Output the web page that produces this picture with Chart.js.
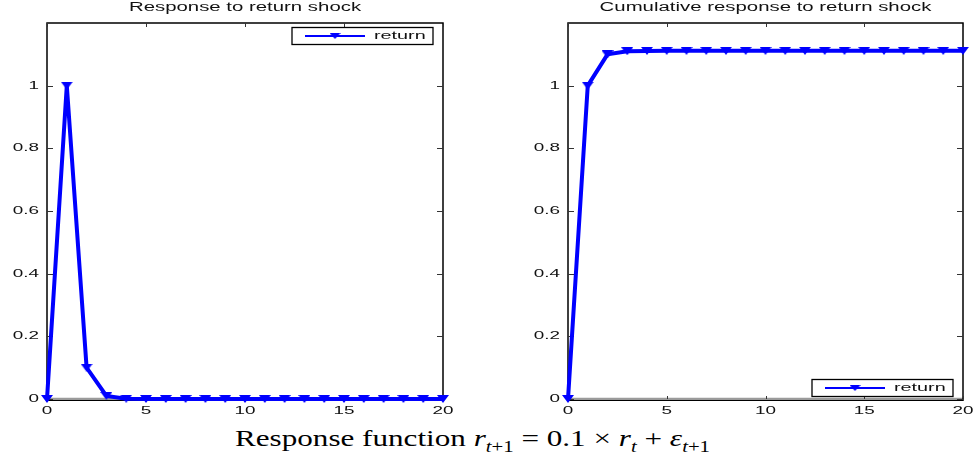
<!DOCTYPE html>
<html>
<head>
<meta charset="utf-8">
<script src="https://cdn.jsdelivr.net/npm/chart.js@4.4.1/dist/chart.umd.min.js"></script>
<style>
  html, body { margin: 0; padding: 0; background: #fff; width: 979px; height: 463px; overflow: hidden; }
  #left { position: absolute; left: 0; top: 0; }
  #right { position: absolute; left: 520px; top: 0; }
  #caption {
    position: absolute; top: 426px; left: 0; white-space: nowrap;
    font-family: "Liberation Serif", "Times New Roman", serif; font-size: 24px; line-height: 24px;
    color: #000; transform-origin: 0 0;
  }
  #caption i { font-style: italic; }
  #caption sub { font-size: 16px; vertical-align: -6px; line-height: 0; }
</style>
</head>
<body>
<canvas id="left" width="470" height="425"></canvas>
<canvas id="right" width="459" height="425"></canvas>
<div id="caption">Response function <i>r</i><sub><i>t</i>+1</sub> = 0.1 × <i>r</i><sub><i>t</i></sub> + <i>ε</i><sub><i>t</i>+1</sub></div>
<script>
// Horizon (periods after the shock)
const periods = [0, 1, 2, 3, 4, 5, 6, 7, 8, 9, 10, 11, 12, 13, 14, 15, 16, 17, 18, 19, 20];
// Impulse response of the return
const response = [0, 1, 0.1, 0.01, 0.001, 0.0001, 0, 0, 0, 0, 0, 0, 0, 0, 0, 0, 0, 0, 0, 0, 0];
// Cumulative response of the return
const cumulative = [0, 1, 1.1, 1.11, 1.111, 1.1111, 1.1111, 1.1111, 1.1111, 1.1111, 1.1111,
                    1.1111, 1.1111, 1.1111, 1.1111, 1.1111, 1.1111, 1.1111, 1.1111, 1.1111, 1.1111];
// Axis tick labels
const xTickLabels = ['0', '5', '10', '15', '20'];
const yTickLabels = ['0', '0.2', '0.4', '0.6', '0.8', '1'];
const seriesName = 'return';

const BLUE = '#0000ff';

// Downward-pointing triangle marker
function makeTriangle(w, h) {
  const c = document.createElement('canvas');
  c.width = w; c.height = h;
  const g = c.getContext('2d');
  g.fillStyle = BLUE;
  g.beginPath();
  g.moveTo(0, 0); g.lineTo(w, 0); g.lineTo(w / 2, h); g.closePath();
  g.fill();
  return c;
}
const marker = makeTriangle(12, 8);
const legendMarker = makeTriangle(11, 6);

// Text drawn with a wide horizontal stretch
function wideText(ctx, text, x, y, size, stretch, align) {
  ctx.save();
  ctx.font = size + 'px "Liberation Sans", Arial, sans-serif';
  ctx.textBaseline = 'middle';
  ctx.textAlign = 'left';
  const w = ctx.measureText(text).width * stretch;
  const x0 = align === 'center' ? x - w / 2 : (align === 'right' ? x - w : x);
  ctx.translate(x0, y);
  ctx.scale(stretch, 1);
  ctx.fillStyle = '#111';
  ctx.fillText(text, 0, 0);
  ctx.restore();
}

function seg(ctx, x1, y1, x2, y2) {
  ctx.beginPath(); ctx.moveTo(x1, y1); ctx.lineTo(x2, y2); ctx.stroke();
}

const framePlugin = {
  id: 'frame',
  beforeDatasetsDraw(chart, args, opts) {
    const { ctx, chartArea: a, scales: { x, y } } = chart;
    ctx.save();
    // zero reference line
    const y0 = y.getPixelForValue(0);
    ctx.strokeStyle = '#9a9a9a'; ctx.lineWidth = 2.5;
    seg(ctx, a.left, y0, a.right, y0);
    // axes box
    ctx.strokeStyle = '#000'; ctx.lineWidth = 1.5;
    ctx.beginPath();
    ctx.moveTo(a.left, a.bottom + 2); ctx.lineTo(a.left, a.top);
    ctx.lineTo(a.right, a.top); ctx.lineTo(a.right, a.bottom + 2);
    ctx.stroke();
    ctx.lineWidth = 1;
    seg(ctx, a.left, a.bottom + 1.5, a.right, a.bottom + 1.5);
    // inward tick marks
    ctx.strokeStyle = '#333';
    yTickLabels.forEach(l => {
      const py = Math.round(y.getPixelForValue(Number(l))) + 0.5;
      seg(ctx, a.left, py, a.left + 6, py);
      seg(ctx, a.right - 6, py, a.right, py);
    });
    xTickLabels.forEach(l => {
      const px = Math.round(x.getPixelForValue(Number(l))) + 0.5;
      seg(ctx, px, a.top, px, a.top + 4);
      seg(ctx, px, a.bottom, px, a.bottom - 3);
    });
    ctx.restore();
  },
  afterDraw(chart, args, opts) {
    const { ctx, chartArea: a, scales: { x, y } } = chart;
    // tick labels
    yTickLabels.forEach(l => {
      wideText(ctx, l, a.left - 8, y.getPixelForValue(Number(l)), 10.5, 1.8, 'right');
    });
    xTickLabels.forEach(l => {
      wideText(ctx, l, x.getPixelForValue(Number(l)), a.bottom + 12, 10.5, 1.8, 'center');
    });
    // title
    wideText(ctx, opts.title, (a.left + a.right) / 2, 8, 12.5, 1.63, 'center');
    // legend box
    const bw = 141, bh = 17;
    const bx = a.right - 10 - bw;
    const by = opts.corner === 'top' ? a.top + 4.5 : a.bottom - 2.5 - bh;
    ctx.save();
    ctx.fillStyle = '#fff';
    ctx.fillRect(bx, by, bw, bh);
    ctx.strokeStyle = '#000'; ctx.lineWidth = 1.3;
    ctx.strokeRect(bx, by, bw, bh);
    const cy = by + bh / 2;
    ctx.strokeStyle = BLUE; ctx.lineWidth = 2;
    seg(ctx, bx + 13, cy, bx + 73, cy);
    ctx.drawImage(legendMarker, bx + 43 - 5.5, cy - 3);
    ctx.restore();
    wideText(ctx, seriesName, bx + 82, cy, 11, 1.8, 'left');
  }
};

function makeChart(id, values, title, corner, yAxisWidth, rightPad) {
  return new Chart(document.getElementById(id), {
    type: 'line',
    data: {
      datasets: [{
        label: seriesName,
        data: periods.map((p, i) => ({ x: p, y: values[i] })),
        borderColor: BLUE,
        backgroundColor: BLUE,
        borderWidth: 4,
        pointStyle: marker,
        pointRadius: 6,
        pointHoverRadius: 6,
        tension: 0,
        clip: false
      }]
    },
    options: {
      responsive: false,
      animation: false,
      devicePixelRatio: 1,
      events: [],
      layout: { padding: { left: 0, right: rightPad, top: 23, bottom: 0 } },
      plugins: {
        legend: { display: false },
        tooltip: { enabled: false },
        title: { display: false },
        frame: { title: title, corner: corner }
      },
      scales: {
        x: {
          type: 'linear', min: 0, max: 20,
          ticks: { stepSize: 5, display: false },
          grid: { display: false }, border: { display: false },
          afterFit: s => { s.height = 26; }
        },
        y: {
          type: 'linear', min: 0, max: 1.2,
          ticks: { stepSize: 0.2, display: false },
          grid: { display: false }, border: { display: false },
          afterFit: s => { s.width = yAxisWidth; }
        }
      }
    },
    plugins: [framePlugin]
  });
}

makeChart('left', response, 'Response to return shock', 'top', 47, 27);
makeChart('right', cumulative, 'Cumulative response to return shock', 'bottom', 48, 16);

// centre and widen the caption under both panels
const cap = document.getElementById('caption');
const cw = cap.getBoundingClientRect().width;
const s = 475 / cw;
cap.style.left = (472.5 - cw * s / 2) + 'px';
cap.style.transform = 'scaleX(' + s + ')';
</script>
</body>
</html>
